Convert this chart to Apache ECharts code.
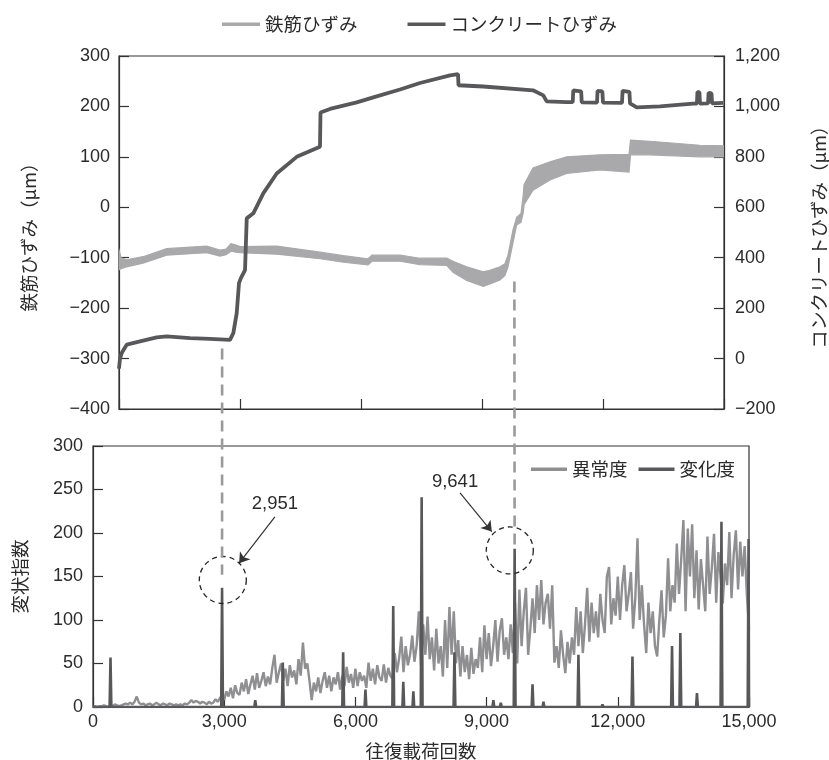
<!DOCTYPE html>
<html>
<head>
<meta charset="utf-8">
<script src="https://cdn.jsdelivr.net/npm/echarts@6/dist/echarts.min.js"></script>
<style>html,body{margin:0;padding:0;background:#fff}#c{width:829px;height:760px}</style>
</head>
<body>
<div id="c"></div>
<script>
// ---------- data: top chart (strain vs. load cycles) ----------
const concreteX = [590,613,652,766,1071,1453,1682,2215,2673,3131,3207,3285,3337,3383,3475,3514,3665,3893,4200,4658,5191,5203,5420,6032,6412,7023,7481,8168,8351,8362,8930,10068,10303,10381,10839,10977,10990,11170,11183,11533,11545,11655,11670,12105,12118,12275,12288,12442,12975,13730,13820,13832,13878,13890,14075,14087,14154,14166,14417];
const concreteY = [-40,0,22,55,68,84,88,81,78,74,101,180,299,320,351,556,576,655,734,800,840,976,990,1016,1036,1067,1093,1123,1128,1084,1079,1064,1044,1020,1017,1017,1064,1060,1016,1015,1062,1060,1015,1014,1062,1058,1012,996,1000,1011,1011,1058,1056,1011,1012,1054,1052,1012,1014];

const steelX    = [590,636,766,1139,1682,2598,2902,3040,3154,3269,3360,4200,5191,5725,6290,6382,7023,7481,8092,8236,8550,8930,9083,9312,9426,9495,9610,9694,9793,9846,9862,10068,10457,10839,11602,12266,12300,12746,13890,14440];
const steelLow  = [-124,-122,-118,-111,-95,-90,-97,-94,-87,-89,-90,-93,-102,-109,-114,-107,-107,-114,-115,-129,-145,-157,-152,-144,-135,-118,-70,-35,-30,-10,5,34,54,67,74,70,104,104,100,100];
const steelHigh = [-85,-100,-104,-98,-82,-77,-85,-83,-72,-75,-78,-77,-89,-96,-102,-95,-95,-101,-101,-107,-118,-128,-125,-118,-112,-95,-45,-20,-12,25,45,78,90,100,104,105,133,131,123,122];

const leftTicks  = {min:-400, max:300, interval:100};
const rightTicks = {min:-200, max:1200, interval:200};

// ---------- data: bottom chart (deformation index) ----------
const anomalyStep = 50;   // sampling step of the anomaly series (cycles)
const anomaly = [
0,1,0,1,1,2,1,0,2,1,3,2,1,2,3,4,3,5,3,6,
12,5,3,4,2,3,4,2,3,5,3,2,4,3,2,4,3,2,3,2,
3,2,4,3,5,8,5,7,6,4,6,5,3,6,4,5,9,6,10,14,
8,18,12,22,10,25,16,14,28,18,32,15,26,36,20,39,22,30,40,24,
35,26,45,60,28,40,50,30,44,24,48,34,42,26,55,36,74,44,50,30,
8,28,18,34,16,30,40,22,36,18,34,26,40,20,36,24,46,28,38,22,
44,24,40,30,36,22,51,30,44,26,48,34,30,49,28,45,36,32,62,40,
56,81,40,70,48,60,82,52,70,110,48,95,60,104,55,80,42,90,50,70,
35,100,45,115,60,110,50,77,35,70,40,60,32,68,38,55,45,80,40,94,
55,85,47,70,100,52,88,102,60,80,55,95,62,120,50,135,70,110,137,60,
90,125,85,140,100,146,95,120,130,90,140,51,70,45,88,60,39,75,50,80,
60,115,70,110,62,95,137,75,120,85,110,80,130,100,85,150,161,95,125,105,
150,100,140,163,110,130,155,90,125,194,100,140,95,62,120,85,110,70,58,100,
134,80,105,171,110,140,120,188,130,170,215,110,205,150,210,125,180,112,170,140,
110,196,130,160,199,120,178,150,119,165,140,201,125,175,203,135,190,150,185,130,
90];

const changeX = [400,2951,3710,4340,5720,6230,6865,7095,7325,7515,8265,9155,9325,9641,10050,10300,11100,11650,12335,13240,13430,13810,14370,14990];
const changeH = [57,137,8,51,63,20,116,29,18,241,63,8,5,182,26,6,60,3,58,70,85,16,213,193];

const noteCycles = [2951, 9641];          // highlighted detection points
const guideTopStrain = [-280, -147];       // guide line start in the top chart (left axis)
const guideBottomIndex = [152, 184];       // guide line end in the bottom chart

const xTicks = {min:0, max:15000, interval:3000};
const yTicks = {min:0, max:300, interval:50};

// ---------- annotation layout (data-space positions) ----------
const noteLayout = {
  circle: [[2968,146],[9530,180]],
  label:  [[4159,233],[8278,259]],
  arrowFrom: [[4159,218.5],[8393,246]],
  arrowTo:   [[3341,165.3],[9118,201.6]]
};

// ---------- styles ----------
const TXT = '#2b2b2b';
const NUM_FONT = "'Liberation Sans', Arial, sans-serif";
const JP_FONT = "'Noto Sans CJK JP', 'Noto Sans CJK SC', sans-serif";
const C_STEEL = '#a9a9ab', C_CONC = '#58585a', C_ANOM = '#8f8f91', C_CHG = '#58585a';

function fmt(v){ const s = Math.abs(v).toLocaleString('en-US'); return v < 0 ? '\u2212' + s : s; }

const axisLine = {show:true, onZero:false, lineStyle:{color:'#333', width:1.2}};
const axisTick = {show:true, inside:true, length:10, lineStyle:{color:'#333', width:1.2}};
const numLabel = (m) => ({fontFamily:NUM_FONT, fontSize:18, color:TXT, margin:m, formatter:fmt});
const jpName = {fontFamily:JP_FONT, fontSize:18.5, color:TXT};

const steelMidData  = steelX.map((x,i)=>[x, (steelLow[i]+steelHigh[i])/2]);
const concreteData  = concreteX.map((x,i)=>[x, concreteY[i]]);
const anomalyData   = anomaly.map((v,i)=>[i*anomalyStep, v]);
const changeData = [[0,0]];
changeX.forEach((x,i)=>{
  changeData.push([Math.max(0,x-20),0]);
  changeData.push([x, changeH[i]]);
  changeData.push([Math.min(xTicks.max,x+20),0]);
});
changeData.push([xTicks.max,0]);

const chart = echarts.init(document.getElementById('c'), null, {renderer:'canvas'});

const legendText = {fontFamily:JP_FONT, fontSize:18.5, color:TXT};

const option = {
  animation:false,
  backgroundColor:'#fff',
  grid:[
    {left:119, right:105, top:56, height:353, show:true, borderColor:'#333', borderWidth:1.2,
     backgroundColor:'transparent', containLabel:false, outerBoundsMode:'none'},
    {left:93, right:80, top:446, height:261, show:true, borderColor:'#333', borderWidth:1.2,
     backgroundColor:'transparent', containLabel:false, outerBoundsMode:'none'}
  ],
  legend:[
    {data:['鉄筋ひずみ','コンクリートひずみ'], left:222, top:15, padding:0, icon:'rect',
     itemWidth:38, itemHeight:3.5, itemGap:50, textStyle:legendText},
    {data:['異常度','変化度'], left:531, top:460, padding:0, icon:'rect',
     itemWidth:36, itemHeight:3.5, itemGap:11, textStyle:legendText}
  ],
  xAxis:[
    {gridIndex:0, type:'value', min:0, max:5, interval:1, axisLine, axisTick, axisLabel:{show:false}, splitLine:{show:false}},
    {gridIndex:0, type:'value', min:590, max:14440, show:false},
    {gridIndex:1, type:'value', min:xTicks.min, max:xTicks.max, interval:xTicks.interval, axisLine, axisTick,
     axisLabel:numLabel(6), splitLine:{show:false},
     name:'往復載荷回数', nameLocation:'middle', nameGap:35, nameTextStyle:jpName}
  ],
  yAxis:[
    {gridIndex:0, type:'value', position:'left', min:leftTicks.min, max:leftTicks.max, interval:leftTicks.interval,
     axisLine, axisTick, axisLabel:numLabel(9), splitLine:{show:false},
     name:'鉄筋ひずみ（μm）', nameLocation:'middle', nameGap:81, nameRotate:90, nameTextStyle:jpName},
    {gridIndex:0, type:'value', position:'right', min:rightTicks.min, max:rightTicks.max, interval:rightTicks.interval,
     axisLine, axisTick, axisLabel:numLabel(11), splitLine:{show:false},
     name:'コンクリートひずみ（μm）', nameLocation:'middle', nameGap:86, nameRotate:90, nameTextStyle:jpName},
    {gridIndex:1, type:'value', min:yTicks.min, max:yTicks.max, interval:yTicks.interval,
     axisLine, axisTick, axisLabel:numLabel(10), splitLine:{show:false},
     name:'変状指数', nameLocation:'middle', nameGap:64, nameRotate:90, nameTextStyle:jpName}
  ],
  series:[
    {name:'steelBand', type:'custom', xAxisIndex:1, yAxisIndex:0, clip:true, silent:true, z:2,
     data:[[steelX[0], steelLow[0]]],
     renderItem:function(params, api){
       const pts = [];
       for (let i=0;i<steelX.length;i++) pts.push(api.coord([steelX[i], steelHigh[i]]));
       for (let i=steelX.length-1;i>=0;i--) pts.push(api.coord([steelX[i], steelLow[i]]));
       return {type:'polygon', shape:{points:pts}, style:{fill:C_STEEL, stroke:C_STEEL, lineWidth:1.2}};
     }},
    {name:'鉄筋ひずみ', type:'line', xAxisIndex:1, yAxisIndex:0, data:steelMidData,
     symbol:'none', lineStyle:{color:C_STEEL, width:1}, itemStyle:{color:C_STEEL}, silent:true, z:2},
    {name:'コンクリートひずみ', type:'line', xAxisIndex:1, yAxisIndex:1, data:concreteData,
     symbol:'none', lineStyle:{color:C_CONC, width:3.8}, itemStyle:{color:C_CONC}, silent:true, z:3},
    {name:'guide', type:'custom', xAxisIndex:1, yAxisIndex:0, clip:false, silent:true, z:6,
     data: noteCycles.map((x,i)=>[x, guideTopStrain[i], guideBottomIndex[i]]),
     renderItem:function(params, api){
       const x = api.value(0);
       const p1 = api.coord([x, api.value(1)]);
       let p2 = null;
       try { p2 = chart.convertToPixel({seriesIndex:4}, [x, api.value(2)]); } catch(e) { p2 = null; }
       if (!p2) p2 = [p1[0], p1[1]+200];
       return {type:'line', shape:{x1:p1[0], y1:p1[1], x2:p2[0], y2:p2[1]},
               style:{stroke:'#9a9a9c', lineWidth:2.6, lineDash:[11,7]}};
     }},
    {name:'異常度', type:'line', xAxisIndex:2, yAxisIndex:2, data:anomalyData,
     symbol:'none', lineStyle:{color:C_ANOM, width:2.4}, itemStyle:{color:C_ANOM}, silent:true, z:2},
    {name:'変化度', type:'line', xAxisIndex:2, yAxisIndex:2, data:changeData,
     symbol:'none', lineStyle:{color:C_CHG, width:2.6}, itemStyle:{color:C_CHG}, silent:true, z:3},
    {name:'notes', type:'line', xAxisIndex:2, yAxisIndex:2, data:[], silent:true, z:7,
     markPoint:{
       animation:false, silent:true,
       data:[].concat(
         noteLayout.circle.map(c=>({coord:c, symbol:'circle', symbolSize:47,
           itemStyle:{color:'rgba(0,0,0,0)', borderColor:'#222', borderWidth:1.3, borderType:[5,4]}, label:{show:false}})),
         noteLayout.label.map((c,i)=>({coord:c, symbol:'circle', symbolSize:1, itemStyle:{color:'rgba(0,0,0,0)'},
           label:{show:true, position:'inside', formatter:noteCycles[i].toLocaleString('en-US'),
                  fontFamily:NUM_FONT, fontSize:18.5, color:TXT}}))
       )
     },
     markLine:{
       animation:false, silent:true, symbol:['none','arrow'], symbolSize:10,
       label:{show:false}, lineStyle:{color:'#333', width:1.2, type:'solid'},
       emphasis:{disabled:true},
       data: noteLayout.arrowFrom.map((f,i)=>[{coord:f},{coord:noteLayout.arrowTo[i]}])
     }}
  ]
};
chart.setOption(option);
</script>
</body>
</html>
